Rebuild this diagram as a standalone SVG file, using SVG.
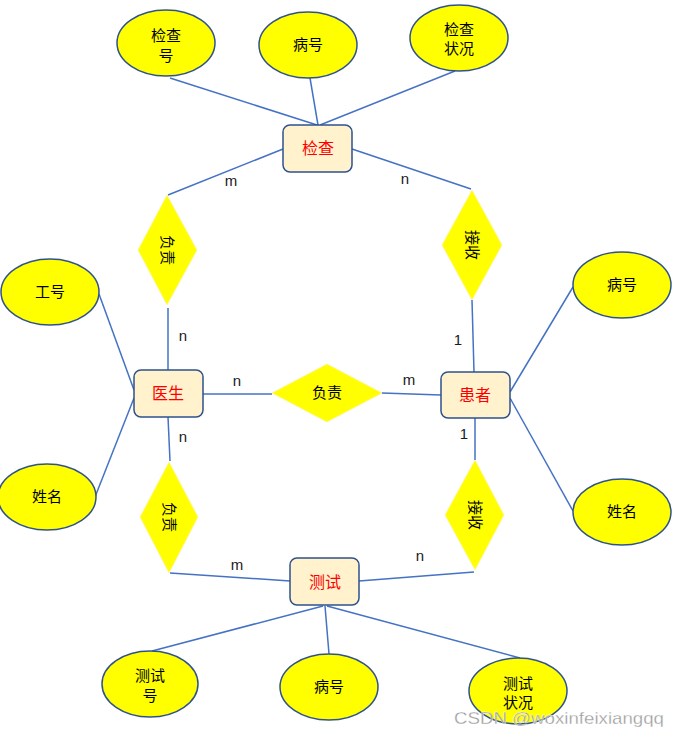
<svg xmlns="http://www.w3.org/2000/svg" width="679" height="737" viewBox="0 0 679 737">
<style>
.ln{stroke:#4472C4;stroke-width:1.5;fill:none}
.at{fill:#FFFF00;stroke:#2F528F;stroke-width:1.5}
.ent{fill:#FFF2CC;stroke:#2F528F;stroke-width:1.5}
.rel{fill:#FFFF00;stroke:#FFF2A0;stroke-width:0.8}
.t{font-family:"Noto Sans CJK SC","Liberation Sans",sans-serif;font-size:15px;fill:#000;text-anchor:middle}
.e{font-family:"Noto Sans CJK SC","Liberation Sans",sans-serif;font-size:16px;fill:#FF0000;text-anchor:middle}
.c{font-family:"Liberation Sans",Arial,sans-serif;font-size:15px;fill:#1a1a1a;text-anchor:middle}
.wm{font-family:"Liberation Sans",Arial,sans-serif;font-size:17px;fill:#9a9a9a;stroke:#ffffff;stroke-width:0.3}
</style>
<rect width="679" height="737" fill="#ffffff"/>
<g id="connectors">
<line class="ln" x1="170" y1="78" x2="317" y2="125"/>
<line class="ln" x1="310" y1="78" x2="318" y2="125"/>
<line class="ln" x1="455" y1="71" x2="320" y2="125"/>
<line class="ln" x1="283" y1="149" x2="168" y2="195"/>
<line class="ln" x1="352" y1="149" x2="471" y2="189"/>
<line class="ln" x1="168" y1="308" x2="168" y2="370"/>
<line class="ln" x1="472" y1="300" x2="474" y2="372"/>
<line class="ln" x1="203" y1="394" x2="272" y2="394"/>
<line class="ln" x1="382" y1="393" x2="441" y2="395"/>
<line class="ln" x1="168" y1="417" x2="170" y2="461"/>
<line class="ln" x1="475" y1="418" x2="475" y2="460"/>
<line class="ln" x1="170" y1="573" x2="290" y2="581"/>
<line class="ln" x1="359" y1="581" x2="474" y2="572"/>
<line class="ln" x1="99" y1="294" x2="134" y2="390"/>
<line class="ln" x1="95" y1="497" x2="134" y2="398"/>
<line class="ln" x1="573" y1="287" x2="510" y2="392"/>
<line class="ln" x1="573" y1="511" x2="510" y2="398"/>
<line class="ln" x1="323" y1="606" x2="152" y2="651"/>
<line class="ln" x1="325" y1="606" x2="329" y2="654"/>
<line class="ln" x1="327" y1="606" x2="520" y2="658"/>
</g>
<g id="label-m1"><text class="c" x="231" y="186">m</text></g>
<g id="label-n1"><text class="c" x="405" y="184">n</text></g>
<g id="label-n2"><text class="c" x="183" y="341">n</text></g>
<g id="label-one1"><text class="c" x="458" y="345">1</text></g>
<g id="label-n3"><text class="c" x="237" y="386">n</text></g>
<g id="label-m2"><text class="c" x="409" y="385">m</text></g>
<g id="label-n4"><text class="c" x="183" y="442">n</text></g>
<g id="label-one2"><text class="c" x="464" y="439">1</text></g>
<g id="label-m3"><text class="c" x="237" y="570">m</text></g>
<g id="label-n5"><text class="c" x="420" y="561">n</text></g>

<g id="attr-jianchahao"><ellipse class="at" cx="166" cy="43" rx="49" ry="33"/><text class="t" x="166" y="41">检查</text><text class="t" x="166" y="61">号</text></g>
<g id="attr-binghao1"><ellipse class="at" cx="308" cy="45" rx="49" ry="33"/><text class="t" x="308" y="50">病号</text></g>
<g id="attr-jianchazhuangkuang"><ellipse class="at" cx="459" cy="38" rx="49" ry="33"/><text class="t" x="459" y="35">检查</text><text class="t" x="459" y="54">状况</text></g>

<g id="ent-jiancha"><rect class="ent" x="283" y="125" width="69" height="47" rx="7"/><text class="e" x="318" y="154">检查</text></g>

<g id="rel-fuze1"><polygon class="rel" points="167,195 197,250 167,305 138,250"/><text class="t" transform="translate(167,250) rotate(90)" y="5">负责</text></g>
<g id="rel-jieshou1"><polygon class="rel" points="472,190 502,245 472,300 442,245"/><text class="t" transform="translate(472,245) rotate(90)" y="5">接收</text></g>

<g id="attr-gonghao"><ellipse class="at" cx="50" cy="292" rx="49" ry="33"/><text class="t" x="50" y="297">工号</text></g>
<g id="attr-xingming1"><ellipse class="at" cx="47" cy="497" rx="49" ry="33"/><text class="t" x="47" y="502">姓名</text></g>
<g id="attr-binghao2"><ellipse class="at" cx="622" cy="285" rx="49" ry="33"/><text class="t" x="622" y="290">病号</text></g>
<g id="attr-xingming2"><ellipse class="at" cx="622" cy="512" rx="49" ry="33"/><text class="t" x="622" y="517">姓名</text></g>

<g id="ent-yisheng"><rect class="ent" x="134" y="370" width="69" height="47" rx="7"/><text class="e" x="168" y="399">医生</text></g>
<g id="rel-fuze2"><polygon class="rel" points="272,393 327,364 382,393 327,422"/><text class="t" x="327" y="398">负责</text></g>
<g id="ent-huanzhe"><rect class="ent" x="441" y="372" width="69" height="46" rx="7"/><text class="e" x="475" y="401">患者</text></g>

<g id="rel-fuze3"><polygon class="rel" points="169,462 198,517 169,573 140,517"/><text class="t" transform="translate(169,517) rotate(90)" y="5">负责</text></g>
<g id="rel-jieshou2"><polygon class="rel" points="475,460 504,515 475,570 445,515"/><text class="t" transform="translate(475,515) rotate(90)" y="5">接收</text></g>

<g id="ent-ceshi"><rect class="ent" x="290" y="558" width="69" height="47" rx="7"/><text class="e" x="325" y="588">测试</text></g>

<g id="attr-ceshihao"><ellipse class="at" cx="150" cy="684" rx="48" ry="33"/><text class="t" x="150" y="681">测试</text><text class="t" x="150" y="701">号</text></g>
<g id="attr-binghao3"><ellipse class="at" cx="329" cy="687" rx="49" ry="33"/><text class="t" x="329" y="692">病号</text></g>
<g id="attr-ceshizhuangkuang"><ellipse class="at" cx="518" cy="691" rx="49" ry="33"/><text class="t" x="518" y="689">测试</text><text class="t" x="518" y="708">状况</text></g>

<text class="wm" x="454" y="724" textLength="210" lengthAdjust="spacingAndGlyphs">CSDN @woxinfeixiangqq</text>
</svg>
